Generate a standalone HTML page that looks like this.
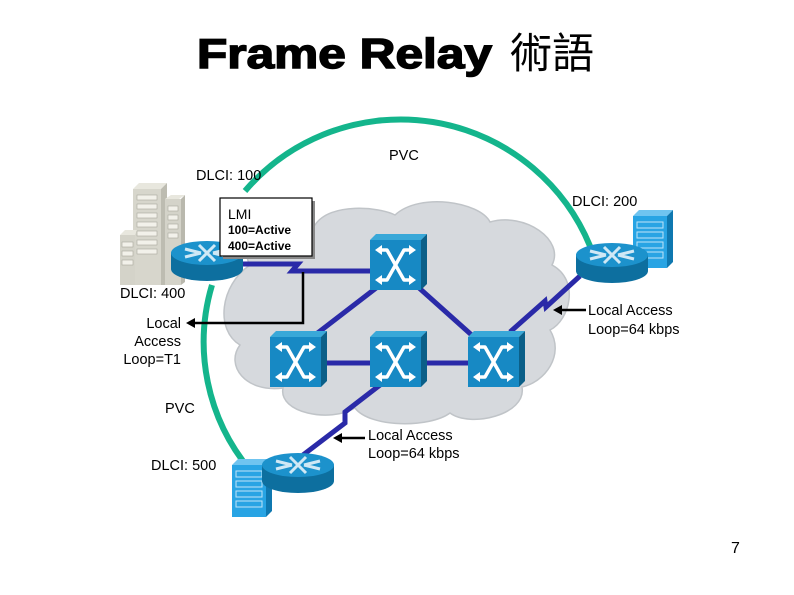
<!DOCTYPE html>
<html><head><meta charset="utf-8"><style>
html,body{margin:0;padding:0;background:#fff;}
svg{display:block;font-family:"Liberation Sans","Noto Sans CJK TC",sans-serif;}
</style></head><body>
<svg width="794" height="595" viewBox="0 0 794 595" xmlns="http://www.w3.org/2000/svg">
<defs>
 <g id="rt">
  <path d="M0,12 L0,28 A36,12 0 0 0 72,28 L72,12 Z" fill="#0d6f9f"/>
  <ellipse cx="36" cy="12" rx="36" ry="12" fill="#1c92cc"/>
  <path d="M14,8 L30,12 M14,16 L30,12 M58,8 L42,12 M58,16 L42,12 M28,4 L44,20 M44,4 L28,20" stroke="#cfe8f5" stroke-width="3" fill="none"/>
 </g>
 <g id="sw">
  <polygon points="0,6 6,0 57,0 51,6" fill="#39a8d8"/>
  <polygon points="51,6 57,0 57,50 51,56" fill="#0b5f88"/>
  <rect x="0" y="6" width="51" height="50" fill="#1789c4"/>
  <path d="M9,16 L17,16 L34,46 L42,46 M42,16 L34,16 L17,46 L9,46" stroke="#fff" stroke-width="3.5" fill="none" stroke-linejoin="round"/>
  <path d="M5,16 L12,11 L12,21Z M5,46 L12,41 L12,51Z M46,16 L39,11 L39,21Z M46,46 L39,41 L39,51Z" fill="#fff"/>
 </g>
 <g id="bld">
  <polygon points="0,6 6,0 40,0 34,6" fill="#6fc4f0"/>
  <polygon points="34,6 40,0 40,52 34,58" fill="#0f78b0"/>
  <rect x="0" y="6" width="34" height="52" fill="#28a4e4"/>
  <g fill="none" stroke="#bfe3f7" stroke-width="1">
   <rect x="4" y="12" width="26" height="6"/><rect x="4" y="22" width="26" height="6"/><rect x="4" y="32" width="26" height="6"/><rect x="4" y="42" width="26" height="6"/>
  </g>
 </g>
</defs>

<text x="197" y="68" font-size="42" font-weight="bold" textLength="295" lengthAdjust="spacingAndGlyphs" stroke="#000" stroke-width="1.5">Frame Relay</text>
<text x="510" y="68" font-size="42" font-family="'Noto Sans CJK TC',sans-serif">術語</text>

<!-- cloud -->
<path d="M250,265 C235,240 280,212 315,225 C330,202 380,207 395,215 C420,192 480,202 490,222 C525,212 565,240 552,265 C580,280 570,320 550,330 C565,355 545,382 522,387 C527,415 470,428 450,413 C430,428 370,428 355,408 C330,423 278,413 283,388 C245,393 225,365 240,345 C215,330 220,285 250,265 Z" fill="#d6d9dd" stroke="#c0c4c8" stroke-width="1.5"/>

<!-- green PVC arcs -->
<path d="M245,185 A205,205 0 0 1 590,240" stroke="#14b58c" stroke-width="6" fill="none" transform="translate(0,6)"/>
<path d="M212,285 A200,200 0 0 0 250,470" stroke="#14b58c" stroke-width="6" fill="none"/>

<!-- blue links -->
<g stroke="#2a2aa8" stroke-width="5" fill="none">
 <path d="M235,264 L298,264 L292,271 L375,271"/>
 <line x1="380" y1="285" x2="315" y2="335"/>
 <line x1="418" y1="287" x2="475" y2="338"/>
 <line x1="325" y1="363" x2="372" y2="363"/>
 <line x1="425" y1="363" x2="470" y2="363"/>
 <path d="M510,332 L545,301 L546,307 L580,276"/>
 <path d="M380,385 L345,412 L345,423 L303,455"/>
</g>
<!-- black connector -->
<path d="M303,272 L303,323 L193,323" stroke="#000" stroke-width="2.5" fill="none"/>
<polygon points="186,323 195,318 195,328" fill="#000"/>
<line x1="586" y1="310" x2="557" y2="310" stroke="#000" stroke-width="2.5"/>
<polygon points="553,310 562,305 562,315" fill="#000"/>
<line x1="365" y1="438" x2="337" y2="438" stroke="#000" stroke-width="2.5"/>
<polygon points="333,438 342,433 342,443" fill="#000"/>

<!-- switches -->
<use href="#sw" x="370" y="234"/>
<use href="#sw" x="270" y="331"/>
<use href="#sw" x="370" y="331"/>
<use href="#sw" x="468" y="331"/>

<!-- left building -->
<g>
 <polygon points="133,189 139,183 167,183 161,189" fill="#e8e7de"/>
 <rect x="133" y="189" width="28" height="96" fill="#d7d6cc"/>
 <polygon points="161,189 167,183 167,285 161,285" fill="#bdbcb1"/>
 <polygon points="165,199 171,195 185,195 179,199" fill="#e8e7de"/>
 <rect x="165" y="199" width="16" height="86" fill="#d4d3c9"/>
 <polygon points="181,199 185,195 185,282 181,285" fill="#b9b8ad"/>
 <rect x="120" y="235" width="15" height="50" fill="#d4d3c9"/>
 <polygon points="120,235 125,230 137,230 135,235" fill="#e8e7de"/>
 <g fill="#f2f1ea" stroke="#a8a79c" stroke-width="0.6">
  <rect x="137" y="195" width="20" height="5"/><rect x="137" y="204" width="20" height="5"/><rect x="137" y="213" width="20" height="5"/><rect x="137" y="222" width="20" height="5"/><rect x="137" y="231" width="20" height="5"/><rect x="137" y="240" width="20" height="5"/><rect x="137" y="249" width="20" height="5"/>
  <rect x="168" y="206" width="10" height="5"/><rect x="168" y="215" width="10" height="5"/><rect x="168" y="224" width="10" height="5"/><rect x="168" y="233" width="10" height="5"/>
  <rect x="122" y="242" width="11" height="5"/><rect x="122" y="251" width="11" height="5"/><rect x="122" y="260" width="11" height="5"/>
 </g>
</g>
<use href="#bld" x="633" y="210"/>
<use href="#bld" x="232" y="459"/>

<!-- routers -->
<use href="#rt" x="171" y="241"/>
<use href="#rt" x="576" y="243"/>
<use href="#rt" x="262" y="453"/>

<!-- LMI box -->
<rect x="223" y="201" width="92" height="58" fill="#888"/>
<rect x="220" y="198" width="92" height="58" fill="#fff" stroke="#000" stroke-width="1.2"/>
<text x="228" y="219" font-size="14">LMI</text>
<text x="228" y="234" font-size="12" font-weight="bold">100=Active</text>
<text x="228" y="250" font-size="12" font-weight="bold">400=Active</text>

<g font-size="14.5">
 <text x="389" y="160">PVC</text>
 <text x="196" y="180">DLCI: 100</text>
 <text x="572" y="206">DLCI: 200</text>
 <text x="120" y="298">DLCI: 400</text>
 <text x="181" y="328" text-anchor="end">Local</text>
 <text x="181" y="346" text-anchor="end">Access</text>
 <text x="181" y="364" text-anchor="end">Loop=T1</text>
 <text x="588" y="315">Local Access</text>
 <text x="588" y="334">Loop=64 kbps</text>
 <text x="165" y="413">PVC</text>
 <text x="151" y="470">DLCI: 500</text>
 <text x="368" y="440">Local Access</text>
 <text x="368" y="458">Loop=64 kbps</text>
 <text x="731" y="553" font-size="16">7</text>
</g>
</svg>
</body></html>
